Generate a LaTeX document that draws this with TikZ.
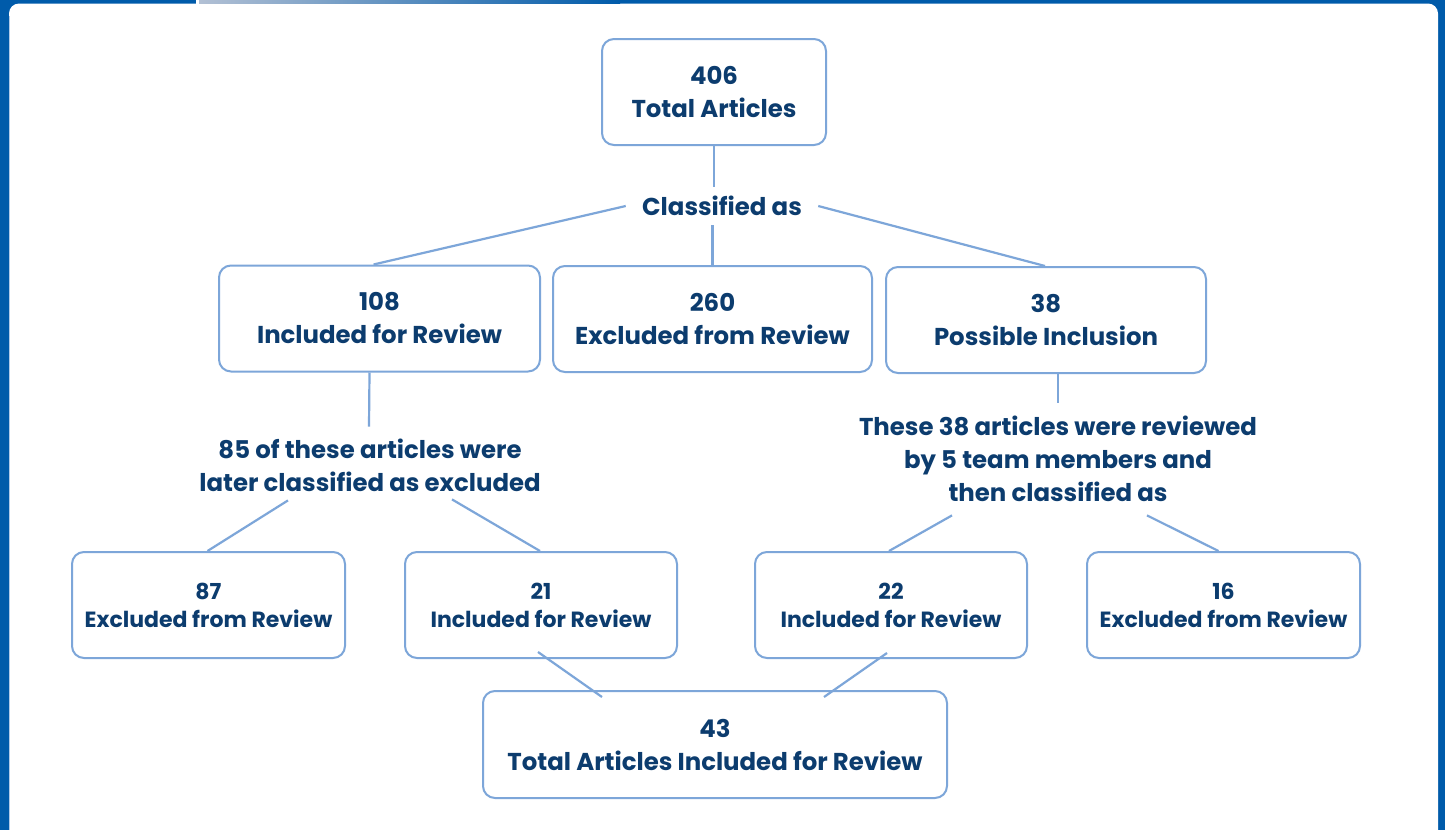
\documentclass[tikz,border=0pt]{standalone}
\usepackage{fontspec}
\setmainfont{Poppins}
\usetikzlibrary{positioning}
\usetikzlibrary{calc}

\definecolor{frameblue}{RGB}{0,91,170}
\definecolor{fadeblue}{RGB}{178,192,212}
\definecolor{edgeblue}{RGB}{125,166,217}
\definecolor{inkblue}{RGB}{12,60,110}

\begin{document}
\begin{tikzpicture}[x=0.5pt,y=-0.5pt,
    every node/.style={text=inkblue,font=\fontsize{12.2}{16.5}\selectfont\bfseries,align=center},
    box/.style={draw=edgeblue,line width=1pt,rounded corners=6pt,minimum height=53pt,inner sep=0pt},
    smallbox/.style={box,font=\fontsize{11}{14}\selectfont\bfseries},
    link/.style={edgeblue,line width=1.1pt}]

  \useasboundingbox (0,0) rectangle (1445,830);

  % Frame
  \fill[frameblue] (0,0) rectangle (1445,830);
  \fill[white,rounded corners=5pt] (9,3.5) rectangle (1438,860);
  \fill[white] (196,0) rectangle (199,3.5);
  \shade[left color=fadeblue,right color=frameblue] (199,0) rectangle (620,3.5);
  \draw[edgeblue!60,line width=0.5pt] (9.5,16) -- (9.5,830);

  % Boxes
  \node[box,minimum width=112pt] (top) at (714,92) {406\\Total Articles};
  \node[inner xsep=8pt,inner ysep=0pt,minimum height=19pt] (classified) at (722,206) {Classified as};
  \node[box,minimum width=160.5pt] (inc) at (379.5,318.5) {108\\Included for Review};
  \node[box,minimum width=159.5pt] (exc) at (712.5,319) {260\\Excluded from Review};
  \node[box,minimum width=160pt] (poss) at (1046,320) {38\\Possible Inclusion};

  % Labels
  \node[inner sep=0pt,minimum height=38pt] (later) at (370,465)
    {85 of these articles were\\later classified as excluded};
  \node[inner sep=0pt,minimum height=56pt] (review) at (1058,459)
    {These 38 articles were reviewed\\by 5 team members and\\then classified as};

  \node[smallbox,minimum width=136.5pt] (exc87) at (208.5,605) {87\\Excluded from Review};
  \node[smallbox,minimum width=136pt] (inc21) at (541,605) {21\\Included for Review};
  \node[smallbox,minimum width=136pt] (inc22) at (891,605) {22\\Included for Review};
  \node[smallbox,minimum width=136.5pt] (exc16) at (1223.5,605) {16\\Excluded from Review};
  \node[box,minimum width=232pt,minimum height=53.5pt] (total) at (715,744.5)
    {43\\Total Articles Included for Review};

  % Connectors
  \draw[link] (top.south) -- (top.south |- classified.north);
  \draw[link] (exc.north |- classified.south) -- (exc.north);
  \draw[link] (classified.west) -- ($(inc.north)+(-6,0)$);
  \draw[link] (classified.east) -- ($(poss.north)+(-1,0)$);

  \draw[link] ($(inc.south)+(-10,0)$) -- ($(later.north)+(-1,0)$);
  \draw[link] ($(later.south)+(-82,-3)$) -- ($(exc87.north)+(-1,0)$);
  \draw[link] ($(later.south)+(82,-4)$) -- ($(inc21.north)+(-1,0)$);

  \draw[link] ($(poss.south)+(12,0)$) -- (review.north);
  \draw[link] ($(review.south)+(-106,0)$) -- ($(inc22.north)+(-2,0)$);
  \draw[link] ($(review.south)+(89,0)$) -- ($(exc16.north)+(-5,0)$);

  \draw[link] ($(inc21.south)+(-3,-7)$) -- ($(total.north)+(-113,7)$);
  \draw[link] ($(inc22.south)+(-4,-6)$) -- ($(total.north)+(109,7)$);
\end{tikzpicture}
\end{document}
